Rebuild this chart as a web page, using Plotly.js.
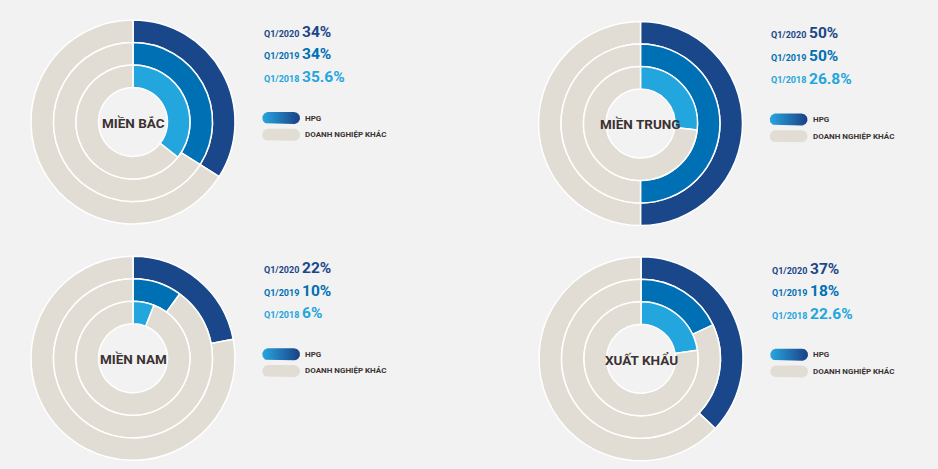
<!DOCTYPE html>
<html>
<head>
<meta charset="utf-8">
<script src="https://cdn.plot.ly/plotly-3.0.1.min.js"></script>
<style>
html,body{margin:0;padding:0;background:#f2f2f2;}
#chart{width:938px;height:469px;}
</style>
</head>
<body>
<div id="chart"></div>
<script>
// ---- data ----
const regions = ['MIỀN BẮC', 'MIỀN TRUNG', 'MIỀN NAM', 'XUẤT KHẨU'];
const periods = ['Q1/2020', 'Q1/2019', 'Q1/2018'];
const hpg2020 = [34, 50, 22, 37];
const hpg2019 = [34, 50, 10, 18];
const hpg2018 = [35.6, 26.8, 6, 22.6];
const sliceLabels = ['HPG', 'DOANH NGHIỆP KHÁC'];

// ---- style / layout ----
const W = 938, H = 469;
const FONT = 'Roboto, "Liberation Sans", sans-serif';
const ringColors = ['#1a4789', '#0070b5', '#23a5dd'];
const gray = '#e1ddd4';
const textDark = '#3b3232';
const centers = [[133, 122], [640.5, 123.5], [133, 358.3], [641, 358.7]];
const radii = [102, 79.5, 57, 34.5];
const series = [hpg2020, hpg2019, hpg2018];

const px = x => x / W;
const py = y => 1 - y / H;

const traces = [];
const annotations = [];

regions.forEach((reg, i) => {
  const [cx, cy] = centers[i];
  series.forEach((s, k) => {
    const R = radii[k];
    const v = s[i];
    traces.push({
      type: 'pie',
      values: [v, 100 - v],
      labels: sliceLabels,
      sort: false,
      direction: 'clockwise',
      rotation: 0,
      hole: radii[k + 1] / R,
      domain: {x: [px(cx - R), px(cx + R)], y: [py(cy + R), py(cy - R)]},
      marker: {colors: [ringColors[k], gray], line: {color: '#ffffff', width: 1.5}},
      textinfo: 'none',
      hoverinfo: 'skip',
      showlegend: false
    });
  });
  // center label
  annotations.push({
    x: px(cx), y: py(cy + 1), xref: 'paper', yref: 'paper',
    xanchor: 'center', yanchor: 'middle', showarrow: false,
    text: reg,
    font: {family: FONT, size: 13.5, color: textDark, weight: 'bold'}
  });
  // period rows
  const rowOff = [-88, -65.5, -43];
  periods.forEach((p, k) => {
    const v = series[k][i];
    annotations.push({
      x: px(cx + 128.5), y: py(cy + rowOff[k]), xref: 'paper', yref: 'paper',
      xanchor: 'left', yanchor: 'middle', showarrow: false,
      text: p,
      font: {family: FONT, size: 9, color: ringColors[k], weight: 'bold'}
    });
    annotations.push({
      x: px(cx + 166.5), y: py(cy + rowOff[k] - 2), xref: 'paper', yref: 'paper',
      xanchor: 'left', yanchor: 'middle', showarrow: false,
      text: v + '%',
      font: {family: FONT, size: 15.5, color: ringColors[k], weight: 'bold'}
    });
  });
  // legend texts
  [[-4, sliceLabels[0]], [12.5, sliceLabels[1]]].forEach(([off, t]) => {
    annotations.push({
      x: px(cx + 170), y: py(cy + off), xref: 'paper', yref: 'paper',
      xanchor: 'left', yanchor: 'middle', showarrow: false,
      text: t,
      font: {family: FONT, size: 8, color: textDark, weight: 'bold'}
    });
  });
  // legend pills
  const pill = (x0, x1, yc, h) => {
    const r = h / 2, xs = [], ys = [];
    for (let a = 0; a <= 20; a++) {
      const t = -Math.PI / 2 + Math.PI * a / 20;
      xs.push(x1 - r + r * Math.cos(t)); ys.push(yc + r * Math.sin(t));
    }
    for (let a = 0; a <= 20; a++) {
      const t = Math.PI / 2 + Math.PI * a / 20;
      xs.push(x0 + r + r * Math.cos(t)); ys.push(yc + r * Math.sin(t));
    }
    xs.push(xs[0]); ys.push(ys[0]);
    return {xs, ys};
  };
  const p1 = pill(cx + 129.3, cx + 167, cy - 4, 12);
  traces.push({
    type: 'scatter', mode: 'lines', x: p1.xs, y: p1.ys, fill: 'toself',
    fillcolor: '#1f78c0',
    fillgradient: {type: 'horizontal', colorscale: [[0, '#27a6e0'], [1, '#1a4085']]},
    line: {width: 0, color: 'rgba(0,0,0,0)'}, hoverinfo: 'skip', showlegend: false
  });
  const p2 = pill(cx + 129.3, cx + 167, cy + 12.8, 12);
  traces.push({
    type: 'scatter', mode: 'lines', x: p2.xs, y: p2.ys, fill: 'toself',
    fillcolor: gray,
    line: {width: 0, color: 'rgba(0,0,0,0)'}, hoverinfo: 'skip', showlegend: false
  });
});

const layout = {
  width: W, height: H,
  margin: {l: 0, r: 0, t: 0, b: 0},
  paper_bgcolor: '#f2f2f2',
  plot_bgcolor: 'rgba(0,0,0,0)',
  xaxis: {range: [0, W], visible: false, fixedrange: true, domain: [0, 1]},
  yaxis: {range: [H, 0], visible: false, fixedrange: true, domain: [0, 1]},
  annotations: annotations,
  showlegend: false
};

Plotly.newPlot('chart', traces, layout, {displayModeBar: false, staticPlot: true});
</script>
</body>
</html>
